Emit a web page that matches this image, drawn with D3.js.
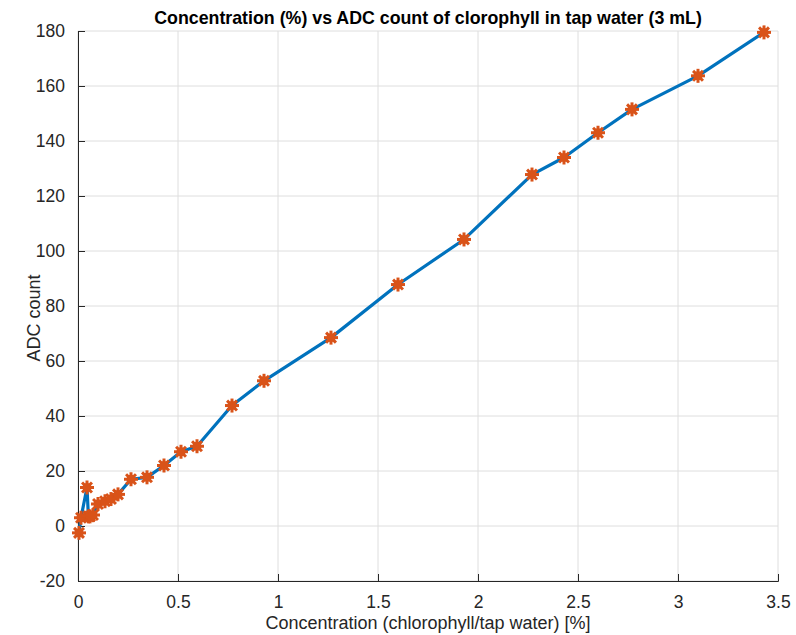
<!DOCTYPE html>
<html>
<head>
<meta charset="utf-8">
<script src="https://cdn.jsdelivr.net/npm/d3@7"></script>
<style>
  body { margin: 0; background: #fff; }
  text { font-family: "Liberation Sans", Arial, sans-serif; fill: #262626; }
</style>
</head>
<body>
<svg id="chart" width="796" height="635"></svg>
<script>
// data
const concentration = [0.005, 0.015, 0.045, 0.052, 0.06, 0.075, 0.1, 0.135, 0.165, 0.2,
  0.265, 0.345, 0.43, 0.515, 0.595, 0.77, 0.93, 1.265, 1.6, 1.93,
  2.27, 2.43, 2.6, 2.77, 3.1, 3.43];
const adcCount = [-2.5, 3, 14, 3.5, 3.5, 4, 8, 9, 9.8, 11.5,
  17, 17.7, 22, 27, 29, 43.8, 52.8, 68.5, 87.8, 104.2,
  127.8, 134, 143, 151.5, 163.7, 179.5];
const xTicks = [0, 0.5, 1, 1.5, 2, 2.5, 3, 3.5];
const yTicks = [-20, 0, 20, 40, 60, 80, 100, 120, 140, 160, 180];

const titleText = 'Concentration (%) vs ADC count of clorophyll in tap water (3 mL)';
const xLabel = 'Concentration (chlorophyll/tap water) [%]';
const yLabel = 'ADC count';

const margin = { top: 31, right: 18, bottom: 54, left: 78 };
const svg = d3.select('#chart');
const width = +svg.attr('width') - margin.left - margin.right;
const height = +svg.attr('height') - margin.top - margin.bottom;

const x = d3.scaleLinear().domain([0, 3.5]).range([0, width]);
const y = d3.scaleLinear().domain([-20, 180]).range([height, 0]);

const g = svg.append('g')
    .attr('transform', `translate(${margin.left},${margin.top})`);

// grid
g.append('g')
    .selectAll('line')
    .data(xTicks)
    .join('line')
    .attr('x1', d => x(d)).attr('x2', d => x(d))
    .attr('y1', 0).attr('y2', height)
    .attr('stroke', '#dedede').attr('stroke-width', 1);

g.append('g')
    .selectAll('line')
    .data(yTicks)
    .join('line')
    .attr('x1', 0).attr('x2', width)
    .attr('y1', d => y(d)).attr('y2', d => y(d))
    .attr('stroke', '#dedede').attr('stroke-width', 1);

// axes (ticks point inward like MATLAB), plain hyphen for negatives
const fmt = d => String(d);

const xAxis = d3.axisBottom(x)
    .tickValues(xTicks)
    .tickSize(-7)
    .tickPadding(15)
    .tickFormat(fmt);

const yAxis = d3.axisLeft(y)
    .tickValues(yTicks)
    .tickSize(-7)
    .tickPadding(13)
    .tickFormat(fmt);

const gx = g.append('g')
    .attr('transform', `translate(0,${height})`)
    .call(xAxis);
const gy = g.append('g').call(yAxis);

[gx, gy].forEach(a => {
  a.select('.domain').attr('stroke', '#262626').attr('stroke-width', 1);
  a.selectAll('.tick line').attr('stroke', '#262626');
  a.selectAll('.tick text')
      .attr('font-size', 17.5)
      .style('fill', '#262626')
      .style('font-family', '"Liberation Sans", Arial, sans-serif');
});

// line
const line = d3.line()
    .x((d, i) => x(concentration[i]))
    .y(d => y(d));

g.append('path')
    .datum(adcCount)
    .attr('fill', 'none')
    .attr('stroke', '#0072BD')
    .attr('stroke-width', 3.2)
    .attr('stroke-linejoin', 'round')
    .attr('d', line);

// asterisk markers
const r = 7;
const arms = [0, 45, 90, 135];
const markers = g.append('g')
    .selectAll('g')
    .data(adcCount)
    .join('g')
    .attr('transform', (d, i) => `translate(${x(concentration[i])},${y(d)})`);

markers.selectAll('line')
    .data(arms)
    .join('line')
    .attr('x1', a => -r * Math.cos(a * Math.PI / 180))
    .attr('y1', a => -r * Math.sin(a * Math.PI / 180))
    .attr('x2', a => r * Math.cos(a * Math.PI / 180))
    .attr('y2', a => r * Math.sin(a * Math.PI / 180))
    .attr('stroke', '#D95319')
    .attr('stroke-width', 3);

markers.append('circle')
    .attr('r', 4.5)
    .attr('fill', '#D95319');

// labels
svg.append('text')
    .attr('x', margin.left + width / 2)
    .attr('y', 24)
    .attr('text-anchor', 'middle')
    .attr('font-size', 17.8)
    .attr('font-weight', 'bold')
    .style('fill', '#000')
    .text(titleText);

svg.append('text')
    .attr('x', margin.left + width / 2)
    .attr('y', 629)
    .attr('text-anchor', 'middle')
    .attr('font-size', 18)
    .text(xLabel);

svg.append('text')
    .attr('transform', `translate(40,318) rotate(-90)`)
    .attr('text-anchor', 'middle')
    .attr('font-size', 18)
    .text(yLabel);
</script>
</body>
</html>
